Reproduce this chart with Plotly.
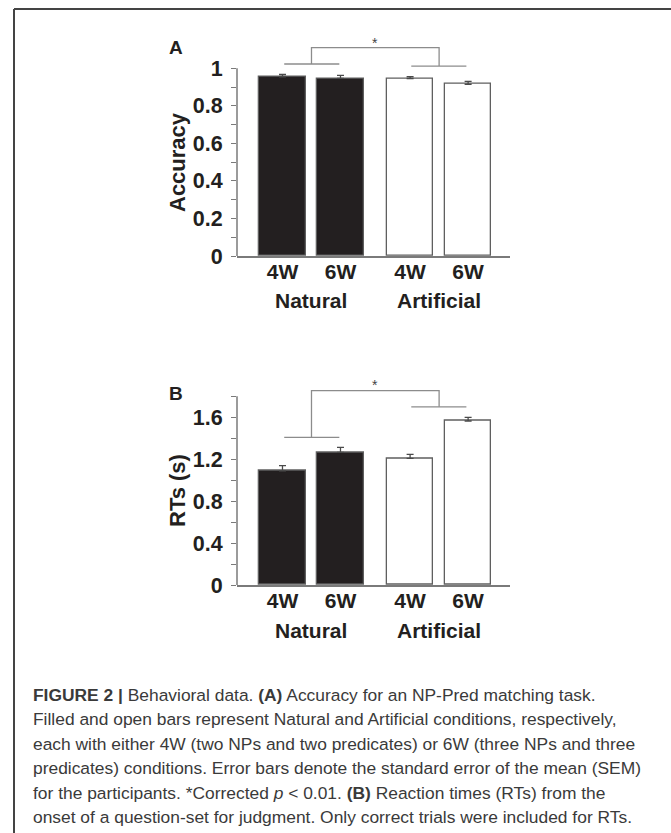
import plotly.graph_objects as go

W, H = 671, 833

# ---------------- data ----------------
conditions = ["4W", "6W", "4W", "6W"]
groups = ["Natural", "Artificial"]
positions = [0, 1, 2.2, 3.2]
acc_values = [0.955, 0.946, 0.945, 0.915]
acc_sem = [0.012, 0.016, 0.010, 0.015]
rt_values = [1.09, 1.266, 1.209, 1.565]
rt_sem = [0.05, 0.048, 0.038, 0.035]
bar_colors = ["#231f20", "#231f20", "#ffffff", "#ffffff"]
acc_ticks = [round(0.1 * i, 1) for i in range(11)]
acc_ticklabels = ["0", "", "0.2", "", "0.4", "", "0.6", "", "0.8", "", "1"]
rt_ticks = [round(0.2 * i, 1) for i in range(10)]
rt_ticklabels = ["0", "", "0.4", "", "0.8", "", "1.2", "", "1.6", ""]

caption_lines = [
    "<b>FIGURE 2 |</b> Behavioral data. <b>(A)</b> Accuracy for an NP-Pred matching task.",
    "Filled and open bars represent Natural and Artificial conditions, respectively,",
    "each with either 4W (two NPs and two predicates) or 6W (three NPs and three",
    "predicates) conditions. Error bars denote the standard error of the mean (SEM)",
    "for the participants. *Corrected <i>p</i> < 0.01. <b>(B)</b> Reaction times (RTs) from the",
    "onset of a question-set for judgment. Only correct trials were included for RTs.",
]

FONT = "Arial, 'Liberation Sans', sans-serif"
GRAY = "#7a7a7a"
BR = "#8c8c8c"
TXT = "#231f20"

def px(x):
    return x / W

def py(y):
    return 1 - y / H

# pixel geometry
x_left, x_right = 237, 510
xr = [-0.784, 3.922]
A_y0, A_scale, A_top = 256, 187.7, 1.2
B_y0, B_scale, B_top = 585, 104.8, 1.95

fig = go.Figure()

for vals, sem, xa, ya in [(acc_values, acc_sem, "x", "y"), (rt_values, rt_sem, "x2", "y2")]:
    fig.add_trace(go.Bar(
        x=positions, y=vals, width=0.8, xaxis=xa, yaxis=ya,
        marker=dict(color=bar_colors, line=dict(color="#5f5f5f", width=1.3)),
        error_y=dict(type="data", array=sem, arrayminus=[0] * len(sem), symmetric=False,
                     color="#4a4a4a", thickness=1.3, width=3.5),
        showlegend=False, hoverinfo="skip",
    ))

xtickfont = dict(size=21, family=FONT, color=TXT, weight="bold")
ytickfont = dict(size=21.5, family=FONT, color=TXT, weight="bold")
axis_common = dict(showgrid=False, zeroline=False, automargin=False)
fig.update_layout(
    width=W, height=H, autosize=False,
    margin=dict(l=0, r=0, t=0, b=0, pad=0),
    paper_bgcolor="white", plot_bgcolor="white",
    font=dict(family=FONT, color=TXT),
    bargap=0,
    xaxis=dict(domain=[px(x_left), px(x_right)], range=xr, anchor="y",
               showline=True, linecolor=GRAY, linewidth=1.5,
               tickvals=positions, ticktext=conditions, ticks="",
               tickfont=xtickfont, **axis_common),
    yaxis=dict(domain=[py(A_y0), py(A_y0 - A_top * A_scale)], range=[0, A_top], anchor="x",
               showline=False, tickvals=acc_ticks, ticktext=acc_ticklabels,
               ticks="outside", ticklen=5, tickwidth=1.3, tickcolor=GRAY,
               tickfont=ytickfont, **axis_common),
    xaxis2=dict(domain=[px(x_left), px(x_right)], range=xr, anchor="y2",
                showline=True, linecolor=GRAY, linewidth=1.5,
                tickvals=positions, ticktext=conditions, ticks="",
                tickfont=xtickfont, **axis_common),
    yaxis2=dict(domain=[py(B_y0), py(B_y0 - B_top * B_scale)], range=[0, B_top], anchor="x2",
                showline=False, tickvals=rt_ticks, ticktext=rt_ticklabels,
                ticks="outside", ticklen=5, tickwidth=1.3, tickcolor=GRAY,
                tickfont=ytickfont, **axis_common),
)

fig.update_xaxes(ticklabelstandoff=-4)
fig.update_yaxes(ticklabelstandoff=4)

shapes = []
# y axis lines
shapes.append(dict(type="line", xref="paper", yref="y", x0=px(x_left), x1=px(x_left), y0=0, y1=1.0,
                   line=dict(color=GRAY, width=1.5)))
shapes.append(dict(type="line", xref="paper", yref="y2", x0=px(x_left), x1=px(x_left), y0=0, y1=1.8,
                   line=dict(color=GRAY, width=1.5)))

def bracket(xref, yref, nat_y, art_y, top_y):
    out = []
    out.append(dict(type="line", xref=xref, yref=yref, x0=0.03, x1=0.98, y0=nat_y, y1=nat_y,
                    line=dict(color=BR, width=1.3)))
    out.append(dict(type="line", xref=xref, yref=yref, x0=2.22, x1=3.17, y0=art_y, y1=art_y,
                    line=dict(color=BR, width=1.3)))
    out.append(dict(type="path", xref=xref, yref=yref,
                    path=f"M 0.5 {nat_y} L 0.5 {top_y} L 2.7 {top_y} L 2.7 {art_y}",
                    line=dict(color=BR, width=1.3)))
    return out

shapes += bracket("x", "y", 1.023, 1.012, 1.11)
shapes += bracket("x2", "y2", 1.409, 1.70, 1.854)

# page frame
shapes.append(dict(type="line", xref="paper", yref="paper", x0=px(14), x1=1, y0=py(9), y1=py(9),
                   line=dict(color="#444444", width=2)))
shapes.append(dict(type="line", xref="paper", yref="paper", x0=px(14), x1=px(14), y0=py(9), y1=0,
                   line=dict(color="#444444", width=2)))

annotations = []
# panel letters
annotations.append(dict(text="<b>A</b>", x=px(167), y=py(35), xref="paper", yref="paper",
                        showarrow=False, font=dict(size=19, family=FONT, color=TXT)))
annotations.append(dict(text="<b>B</b>", x=px(167), y=py(394), xref="paper", yref="paper",
                        showarrow=False, font=dict(size=19, family=FONT, color=TXT)))
# y titles
annotations.append(dict(text="<b>Accuracy</b>", x=px(177), y=py(162), xref="paper", yref="paper",
                        xanchor="center", yanchor="middle",
                        textangle=-90, showarrow=False, font=dict(size=22, family=FONT, color=TXT)))
annotations.append(dict(text="<b>RTs (s)</b>", x=px(177), y=py(491), xref="paper", yref="paper",
                        xanchor="center", yanchor="middle",
                        textangle=-90, showarrow=False, font=dict(size=22, family=FONT, color=TXT)))
# group labels
for xa, ypix in [("x", 300), ("x2", 630)]:
    for gi, g in enumerate(groups):
        cx = (positions[2 * gi] + positions[2 * gi + 1]) / 2
        annotations.append(dict(text=f"<b>{g}</b>", x=cx, y=py(ypix), xref=xa, yref="paper",
                                yanchor="middle",
                                showarrow=False, font=dict(size=21, family=FONT, color=TXT)))
# stars
annotations.append(dict(text="*", x=1.6, y=1.137, xref="x", yref="y", showarrow=False,
                        font=dict(size=14, family=FONT, color="#444444")))
annotations.append(dict(text="*", x=1.6, y=1.905, xref="x2", yref="y2", showarrow=False,
                        font=dict(size=14, family=FONT, color="#444444")))
# caption
for i, line in enumerate(caption_lines):
    annotations.append(dict(text=line, x=px(31), y=py(695 + 24.4 * i), xref="paper", yref="paper",
                            xanchor="left", yanchor="middle", showarrow=False,
                            font=dict(size=17.4, family=FONT, color="#3a3a3a")))

fig.update_layout(shapes=shapes, annotations=annotations)
fig.write_html("out.html", config={"displayModeBar": False},
               post_script="document.body.style.margin='0';document.body.style.padding='0';"
                           "document.documentElement.style.overflow='hidden';")
